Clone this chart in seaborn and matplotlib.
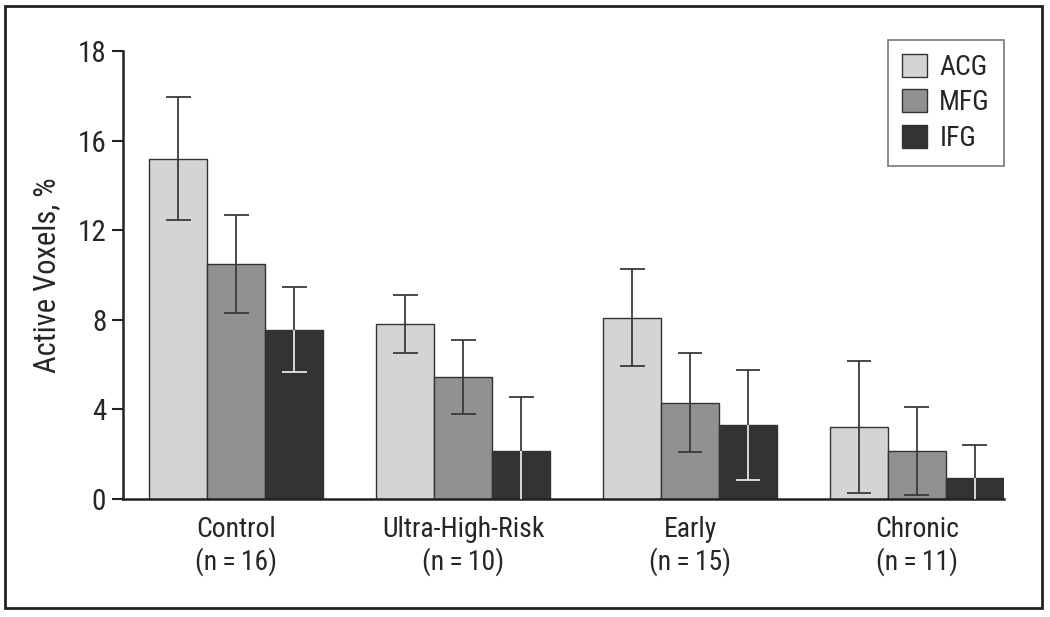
import numpy as np
import pandas as pd
import matplotlib
matplotlib.use("Agg")
import matplotlib.pyplot as plt
import seaborn as sns

# data
groups = ["Control\n(n\u2009=\u200916)", "Ultra-High-Risk\n(n\u2009=\u200910)",
          "Early\n(n\u2009=\u200915)", "Chronic\n(n\u2009=\u200911)"]
regions = ["ACG", "MFG", "IFG"]
acg_mean = [15.2, 7.8, 8.1, 3.2]
acg_err = [2.75, 1.3, 2.15, 2.95]
mfg_mean = [10.5, 5.45, 4.3, 2.15]
mfg_err = [2.2, 1.65, 2.2, 1.95]
ifg_mean = [7.55, 2.15, 3.3, 0.95]
ifg_err = [1.9, 2.4, 2.45, 1.45]
yticks = [0, 4, 8, 12, 16, 20]
ytick_labels = ["0", "4", "8", "12", "16", "18"]
colors = ["#d4d4d4", "#919191", "#333333"]

df = pd.DataFrame({
    "group": groups * 3,
    "region": ["ACG"] * 4 + ["MFG"] * 4 + ["IFG"] * 4,
    "value": acg_mean + mfg_mean + ifg_mean,
})
errs = [acg_err, mfg_err, ifg_err]
means = [acg_mean, mfg_mean, ifg_mean]

sns.set_style("white")
plt.rcParams["font.family"] = ["Roboto Condensed", "Archivo Narrow", "PT Sans Narrow",
                               "Liberation Sans Narrow", "DejaVu Sans"]

fig = plt.figure(figsize=(10.5, 6.17), dpi=100)
ax = fig.add_axes([0.117, 0.1912, 0.839, 0.7261])

sns.barplot(data=df, x="group", y="value", hue="region", hue_order=regions,
            palette=colors, width=0.766, errorbar=None, edgecolor="#333333",
            linewidth=1, ax=ax, saturation=1)

# error bars (the part inside the dark IFG bar is drawn light)
dark, light = "#3a3a3a", "#e6e6e6"
bar_sets = list(ax.containers)
for i, cont in enumerate(bar_sets):
    for j, bar in enumerate(cont.patches):
        xc = bar.get_x() + bar.get_width() / 2
        half = bar.get_width() * 0.215
        m = means[i][j]
        e = errs[i][j]
        lo_col = dark if i < 2 else light
        # upper whisker + cap
        ax.vlines(xc, m, m + e, color=dark, lw=1.3, zorder=3)
        ax.hlines(m + e, xc - half, xc + half, color=dark, lw=1.3, zorder=3)
        # lower whisker + cap (cap only if above zero)
        ax.vlines(xc, max(m - e, 0), m, color=lo_col, lw=1.3, zorder=3)
        if m - e > 0:
            ax.hlines(m - e, xc - half, xc + half, color=lo_col, lw=1.3, zorder=3)

ax.set_ylim(0, 20)
ax.set_xlim(-0.5, 3.383)
ax.set_yticks(yticks)
ax.set_yticklabels(ytick_labels, fontsize=21)
ax.tick_params(axis="y", length=8, width=1.5, color="#222222", direction="out", pad=4, left=True)
ax.tick_params(axis="x", length=0, labelsize=20, pad=12)
ax.set_xlabel("")
ax.set_ylabel("Active Voxels, %", fontsize=22, labelpad=12)
for s in ["top", "right"]:
    ax.spines[s].set_visible(False)
for s in ["left", "bottom"]:
    ax.spines[s].set_linewidth(1.8)
    ax.spines[s].set_color("#222222")

leg = ax.legend(loc="upper right", bbox_to_anchor=(1.0, 1.025), fontsize=20,
                frameon=True, fancybox=False, handlelength=0.9, handleheight=0.9,
                handletextpad=0.45, borderpad=0.5, labelspacing=0.3, borderaxespad=0)
leg.get_frame().set_edgecolor("#555555")
leg.get_frame().set_linewidth(1.2)

# outer border
fig.patches.append(plt.Rectangle((5 / 1050, 1 - 608 / 617), 1037 / 1050, 602 / 617,
                                 transform=fig.transFigure, fill=False,
                                 edgecolor="#222222", linewidth=2))

plt.savefig("out.png", dpi=100)
